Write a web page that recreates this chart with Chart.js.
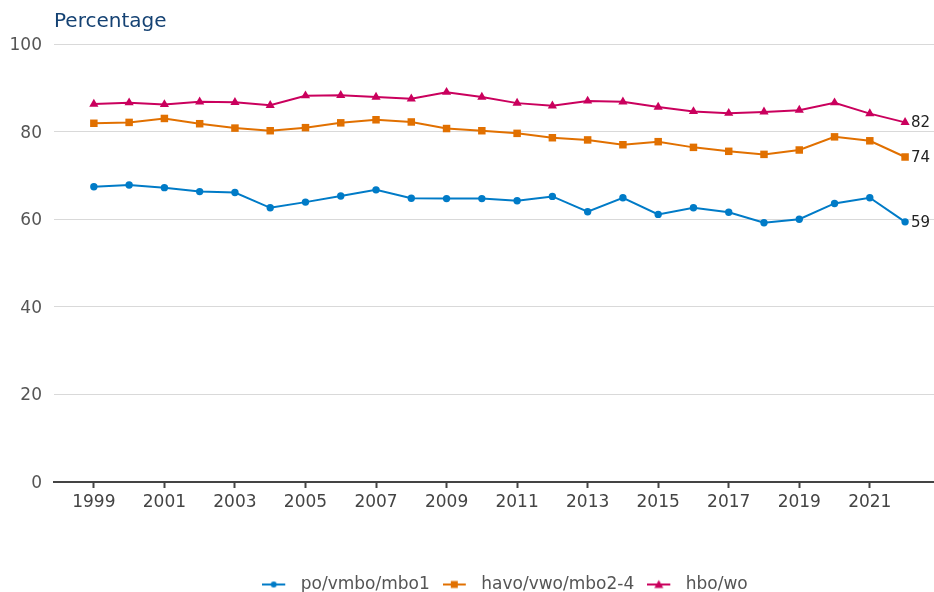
<!DOCTYPE html>
<html>
<head>
<meta charset="utf-8">
<script src="https://cdn.jsdelivr.net/npm/chart.js@4.4.1/dist/chart.umd.min.js"></script>
<style>
  html, body { margin: 0; padding: 0; background: #fff; overflow: hidden; }
  #wrap { width: 934px; height: 592px; }
</style>
</head>
<body>
<div id="wrap"><canvas id="chart"></canvas></div>
<script>
const years = [1999, 2000, 2001, 2002, 2003, 2004, 2005, 2006, 2007, 2008, 2009, 2010,
  2011, 2012, 2013, 2014, 2015, 2016, 2017, 2018, 2019, 2020, 2021, 2022];
const tickYears = [1999, 2001, 2003, 2005, 2007, 2009, 2011, 2013, 2015, 2017, 2019, 2021];
const seriesNames = ["po/vmbo/mbo1", "havo/vwo/mbo2-4", "hbo/wo"];

const poVmboMbo1 = [67.4, 67.8, 67.2, 66.3, 66.1, 62.6, 63.9, 65.3, 66.7, 64.8, 64.7, 64.7,
  64.2, 65.2, 61.7, 64.9, 61.1, 62.6, 61.6, 59.2, 60.0, 63.6, 64.9, 59.4];
const havoVwoMbo24 = [81.9, 82.1, 83.0, 81.8, 80.8, 80.2, 80.9, 82.0, 82.7, 82.2, 80.7, 80.2,
  79.6, 78.6, 78.1, 77.0, 77.7, 76.4, 75.5, 74.8, 75.8, 78.8, 77.9, 74.2];
const hboWo = [86.3, 86.6, 86.2, 86.8, 86.7, 86.0, 88.2, 88.3, 87.9, 87.5, 89.0, 87.9,
  86.5, 85.9, 87.0, 86.8, 85.6, 84.6, 84.2, 84.5, 84.9, 86.6, 84.1, 82.1];

const colors = ["#007bc7", "#e17000", "#ca005d"];
const styles = ["circle", "rect", "triangle"];
const radii = [3.7, 5.3, 5.3];

// small icon for the legend: line with the marker on it
function legendIcon(color, style) {
  const c = document.createElement("canvas");
  c.width = 30;
  c.height = 12;
  const ctx = c.getContext("2d");
  ctx.strokeStyle = color;
  ctx.fillStyle = color;
  ctx.lineWidth = 2;
  ctx.beginPath();
  ctx.moveTo(0, 6);
  ctx.lineTo(23, 6);
  ctx.stroke();
  ctx.beginPath();
  if (style === "circle") {
    ctx.arc(11.5, 6, 3, 0, Math.PI * 2);
  } else if (style === "rect") {
    ctx.rect(8, 2.5, 7, 7);
  } else {
    ctx.moveTo(11.5, 1.5);
    ctx.lineTo(16, 9.5);
    ctx.lineTo(7, 9.5);
    ctx.closePath();
  }
  ctx.fill();
  return c;
}
const legendIcons = colors.map((c, i) => legendIcon(c, styles[i]));

const allSeries = [poVmboMbo1, havoVwoMbo24, hboWo];

const endLabels = {
  id: "endLabels",
  afterLayout(chart) {
    // legend sits a bit right of the canvas centre in the original
    chart.legend.left += 38;
    chart.legend.right += 38;
  },
  afterDatasetsDraw(chart) {
    const ctx = chart.ctx;
    ctx.save();
    ctx.font = "15px 'DejaVu Sans'";
    ctx.fillStyle = "#222";
    ctx.textBaseline = "middle";
    chart.data.datasets.forEach((ds, i) => {
      const meta = chart.getDatasetMeta(i);
      const pt = meta.data[meta.data.length - 1];
      const v = ds.data[ds.data.length - 1].y;
      ctx.fillText(String(Math.round(v)), pt.x + 6, pt.y + 1);
    });
    ctx.restore();
  },
  afterDraw(chart) {
    const ctx = chart.ctx;
    ctx.save();
    ctx.font = "20px 'DejaVu Sans'";
    ctx.fillStyle = "#154273";
    ctx.textBaseline = "middle";
    ctx.fillText("Percentage", chart.chartArea.left, 22);
    ctx.restore();
  }
};

new Chart(document.getElementById("chart"), {
  type: "line",
  data: {
    datasets: allSeries.map((vals, i) => ({
      label: seriesNames[i],
      data: years.map((y, j) => ({ x: y, y: vals[j] })),
      borderColor: colors[i],
      backgroundColor: colors[i],
      borderWidth: 2,
      pointStyle: styles[i],
      pointRadius: radii[i],
      pointBorderWidth: 0,
      pointHoverRadius: radii[i],
      tension: 0
    }))
  },
  options: {
    responsive: true,
    maintainAspectRatio: false,
    animation: false,
    layout: { autoPadding: false, padding: { top: 44, right: 0, left: 0, bottom: -11 } },
    plugins: {
      tooltip: { enabled: false },
      title: { display: false },
      legend: {
        position: "bottom",
        labels: {
          usePointStyle: true,
          pointStyleWidth: 30,
          padding: 13,
          color: "#555",
          font: { family: "DejaVu Sans", size: 17 },
          generateLabels(chart) {
            const items = Chart.defaults.plugins.legend.labels.generateLabels(chart);
            items.forEach((it, i) => { it.pointStyle = legendIcons[i]; });
            return items;
          }
        }
      }
    },
    scales: {
      x: {
        type: "linear",
        min: 1997.87,
        max: 2022.82,
        afterBuildTicks(scale) {
          scale.ticks = tickYears.map(v => ({ value: v }));
        },
        afterFit(scale) {
          scale.height = 81;
        },
        grid: {
          drawOnChartArea: false,
          drawTicks: true,
          tickLength: 6,
          tickWidth: 2,
          tickColor: "#444"
        },
        border: { color: "#444", width: 2 },
        ticks: {
          color: "#444",
          padding: 4,
          maxRotation: 0,
          font: { family: "DejaVu Sans", size: 17 },
          callback: v => String(v)
        }
      },
      y: {
        min: 0,
        max: 100,
        afterFit(scale) {
          scale.width = 54;
        },
        grid: { color: "#d9d9d9", drawTicks: false },
        border: { display: false },
        ticks: {
          stepSize: 20,
          padding: 12,
          labelOffset: 1.5,
          color: "#555",
          font: { family: "DejaVu Sans", size: 17 }
        }
      }
    }
  },
  plugins: [endLabels]
});
</script>
</body>
</html>
